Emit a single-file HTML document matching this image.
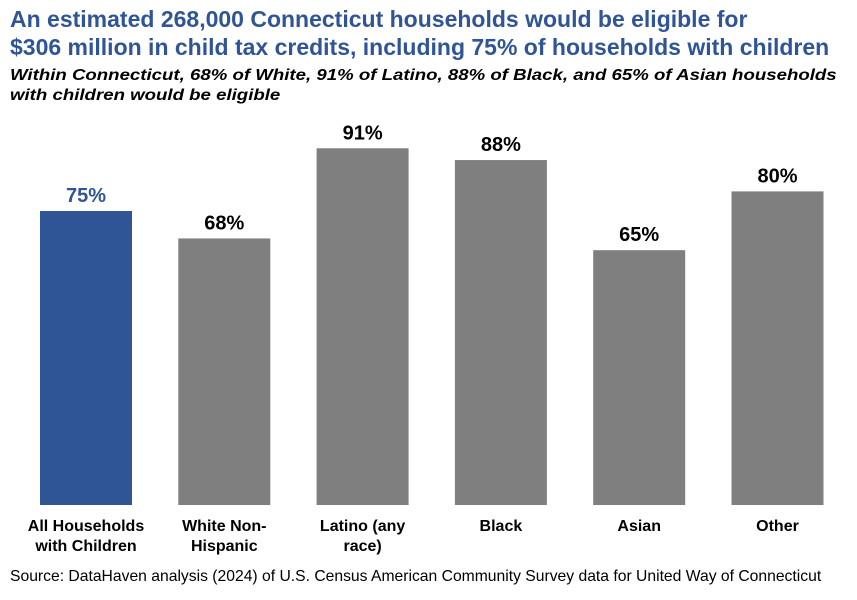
<!DOCTYPE html>
<html><head><meta charset="utf-8"><style>
body{margin:0;background:#fff;}
#c{position:relative;width:857px;height:600px;font-family:"Liberation Sans",Arial,sans-serif;overflow:hidden}
.t{position:absolute;left:10px;top:5px;font-size:23px;font-weight:bold;color:#2F5597;line-height:28px;white-space:nowrap}
.s{position:absolute;left:10px;top:66px;font-size:16px;font-weight:bold;font-style:italic;color:#000;line-height:20px;white-space:nowrap;transform-origin:0 0;transform:scaleX(1.165)}
.src{position:absolute;left:10px;top:568px;font-size:15.7px;color:#000;white-space:nowrap}
</style></head><body>
<div id="c">
<div class="t">An estimated 268,000 Connecticut households would be eligible for<br>$306 million in child tax credits, including 75% of households with children</div>
<div class="s">Within Connecticut, 68% of White, 91% of Latino, 88% of Black, and 65% of Asian households<br>with children would be eligible</div>
<svg id="svg" width="857" height="600" style="position:absolute;left:0;top:0"></svg>
<div class="src">Source: DataHaven analysis (2024) of U.S. Census American Community Survey data for United Way of Connecticut</div>
</div>
<script>
const categories=[["All Households","with Children"],["White Non-","Hispanic"],["Latino (any","race)"],["Black"],["Asian"],["Other"]];
const values=[75,68,91,88,65,80];
const highlight=[true,false,false,false,false,false];
const svg=document.getElementById('svg');
const NS='http://www.w3.org/2000/svg';
const base=505,scale=3.92,x0=40,step=138.3,bw=92;
function y(v){return base-v*scale;}
function x(i){return x0+i*step;}
values.forEach((v,i)=>{
 const r=document.createElementNS(NS,'rect');
 r.setAttribute('x',x(i));r.setAttribute('y',y(v));r.setAttribute('width',bw);r.setAttribute('height',base-y(v));
 r.setAttribute('fill',highlight[i]?'#2F5597':'#7F7F7F');
 
 
 svg.appendChild(r);
 const t=document.createElementNS(NS,'text');
 t.setAttribute('x',x(i)+bw/2);t.setAttribute('y',y(v)-9);t.setAttribute('text-anchor','middle');
 t.setAttribute('font-size','20');t.setAttribute('font-weight','bold');t.setAttribute('font-family','Liberation Sans, Arial, sans-serif');
 t.setAttribute('fill',highlight[i]?'#2F5597':'#000');
 t.textContent=v+'%';
 
 
 svg.appendChild(t);
 categories[i].forEach((line,j)=>{
  const l=document.createElementNS(NS,'text');
  l.setAttribute('x',x(i)+bw/2);l.setAttribute('y',531+j*20);l.setAttribute('text-anchor','middle');
  l.setAttribute('font-size','16');l.setAttribute('font-weight','bold');l.setAttribute('font-family','Liberation Sans, Arial, sans-serif');
  l.textContent=line;
  
  
  svg.appendChild(l);
 });
});
</script>
</body></html>
